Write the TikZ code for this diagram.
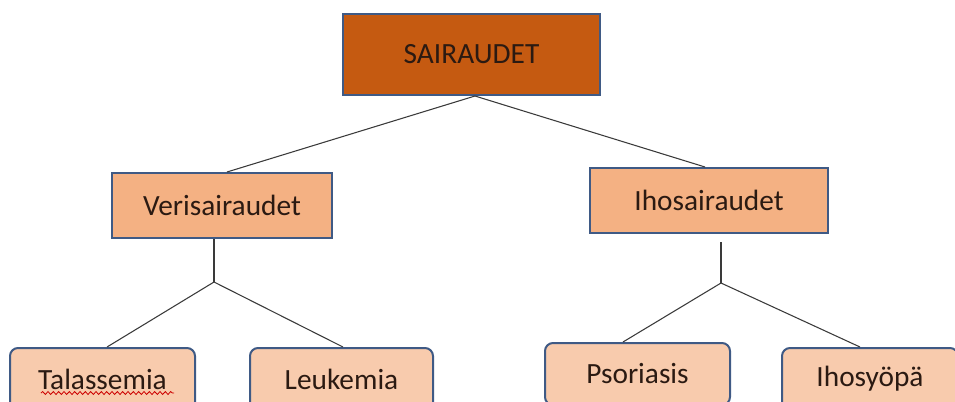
\documentclass[tikz,border=0pt]{standalone}
\usepackage{fontspec}
\setmainfont{Carlito}
\usetikzlibrary{decorations.pathmorphing}
\definecolor{topfill}{HTML}{C55A11}
\definecolor{midfill}{HTML}{F4B183}
\definecolor{lowfill}{HTML}{F8CBAD}
\definecolor{edge}{HTML}{3F5A85}
\definecolor{ink}{HTML}{2B1A12}
\definecolor{linec}{HTML}{3A3A3A}
\begin{document}
\begin{tikzpicture}[x=0.75pt,y=-0.75pt,
  box/.style={draw=edge,line width=1.5pt,inner sep=0pt,text=ink,font=\fontsize{22}{26}\selectfont},
  topbox/.style={box,fill=topfill,minimum width=192.75pt,minimum height=60.75pt},
  midbox/.style={box,fill=midfill,minimum height=48.75pt},
  lowbox/.style={box,fill=lowfill,rounded corners=6pt,minimum height=46.5pt},
  conn/.style={draw=linec,line width=0.8pt}]
\useasboundingbox (0,0) rectangle (955,401);
\clip (0,0) rectangle (955,401);
\node[topbox] (top) at (471.5,54.5) {SAIRAUDET};
\node[midbox,minimum width=165pt] (veri) at (222,205.5) {Verisairaudet};
\node[midbox,minimum width=178.5pt] (iho) at (709,200.5) {Ihosairaudet};
\node[lowbox,minimum width=138.75pt] (tala) at (102.5,379) {Talassemia};
\node[lowbox,minimum width=137.25pt] (leuk) at (341.5,379) {Leukemia};
\node[lowbox,minimum width=138.75pt] (psor) at (637.5,374) {Psoriasis};
\node[lowbox,minimum width=132pt] (ihos) at (870,379) {Ihosyöpä};
\coordinate (bl) at (214,282);
\coordinate (r0) at (721,242);
\coordinate (br) at (721,283);
\draw[conn] ([xshift=2.6pt]top.south) -- ([xshift=3.75pt]veri.north);
\draw[conn] ([xshift=2.6pt]top.south) -- ([xshift=-3pt]iho.north);
\draw[conn] (bl |- veri.south) -- (bl);
\draw[conn] (bl) -- ([xshift=3.4pt]tala.north);
\draw[conn] (bl) -- ([xshift=1.1pt]leuk.north);
\draw[conn] (r0) -- (br);
\draw[conn] (br) -- ([xshift=-10.9pt]psor.north);
\draw[conn] (br) -- ([xshift=-7.5pt]ihos.north);
\coordinate (w1) at (41,393);
\coordinate (w2) at (174,393);
\draw[red!80!black,line width=0.6pt,decorate,decoration={snake,amplitude=1.1pt,segment length=4pt}] (w1) -- (w2);
\end{tikzpicture}
\end{document}
